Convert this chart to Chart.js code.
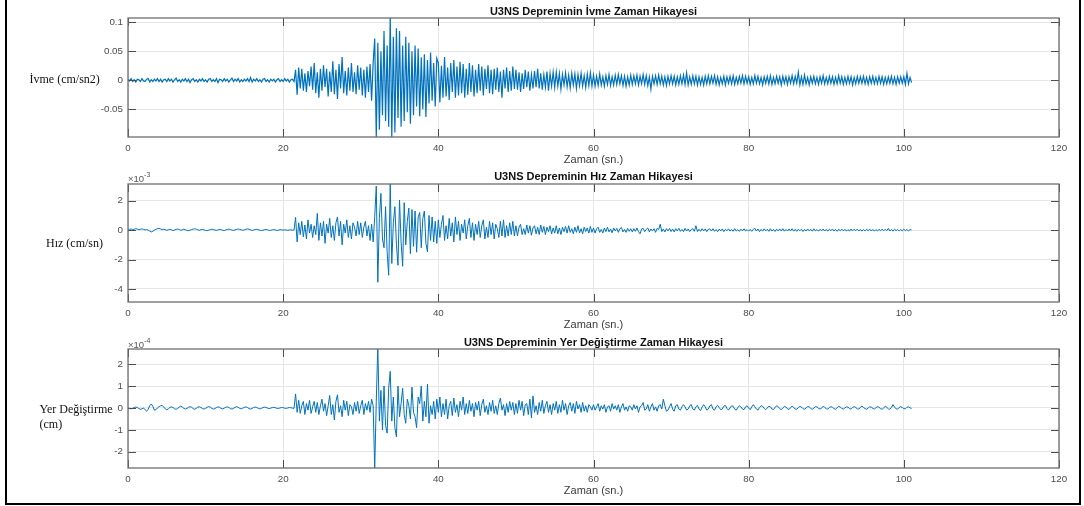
<!DOCTYPE html>
<html>
<head>
<meta charset="utf-8">
<script src="https://cdn.jsdelivr.net/npm/chart.js@4/dist/chart.umd.min.js"></script>
<style>
  html, body { margin: 0; padding: 0; background: #fff; }
  #wrap { position: relative; width: 1084px; height: 506px; overflow: hidden; background: #fff; }
  #wrap canvas { position: absolute; left: 0; top: 0; }
  #frame { position: absolute; left: 5px; top: -3px; width: 1076px; height: 508px;
           border: 2px solid #000; box-sizing: border-box; pointer-events: none; }
</style>
</head>
<body>
<div id="wrap">
  <canvas id="c1" width="1084" height="506"></canvas>
  <canvas id="c2" width="1084" height="506"></canvas>
  <canvas id="c3" width="1084" height="506"></canvas>
  <div id="frame"></div>
</div>
<script>
// Sampling step of the records (s); sample i sits at t = i * DT
const DT = 0.2;

// Time axis ticks (s)
const zamanTicks = [0, 20, 40, 60, 80, 100, 120];

// Acceleration record (cm/sn2), one row per 5 s
const ivme = [
  .002,-.001,.003,-.002,.001,-.003,.002,.001,-.002,.003,-.001,-.002,.002,.003,-.003,.001,-.002,.002,-.001,.003,-.002,.002,-.003,.001,.002,
  -.002,.003,-.001,.002,-.003,.001,.004,-.002,.001,-.003,.002,-.001,.003,-.002,.002,-.004,.001,.003,-.002,.001,-.003,.002,-.001,.003,-.002,
  .001,-.003,.002,.003,-.002,.001,-.002,.003,-.004,.002,.001,-.002,.003,-.001,.002,-.003,.001,.004,-.002,.002,-.001,.003,-.003,.001,-.002,
  .002,-.001,.003,-.002,.005,-.003,.002,-.001,.003,-.002,.001,-.003,.002,.003,-.002,.001,-.003,.002,-.001,.002,-.003,.001,.003,-.002,.001,
  -.002,.003,-.001,.002,-.003,.001,.002,-.002,.018,-.025,.022,-.014,.02,-.018,.012,-.02,.016,-.01,.024,-.016,.03,-.022,.014,-.03,.02,
  -.018,.026,-.012,.02,-.028,.015,-.02,.033,-.024,.018,-.032,.028,-.014,.04,-.022,.016,-.026,.022,-.018,.03,-.02,.014,-.024,.026,-.016,
  .022,-.026,.018,-.03,.024,-.02,.028,-.035,.03,.072,-.1,.065,-.085,.05,-.06,.085,-.07,.06,-.08,.112,-.1,.075,-.09,.09,-.065,
  .085,-.08,.06,-.07,.075,-.055,.065,-.075,.05,-.06,.06,-.045,.055,-.062,.04,-.05,.045,-.063,.035,-.04,.048,-.035,.03,-.045,.038,
  .03,-.038,.025,-.03,.04,-.028,.022,-.034,.03,-.02,.035,-.03,.024,-.026,.032,-.022,.028,-.03,.02,-.025,.03,-.02,.026,-.028,.018,
  -.022,.028,-.018,.024,-.026,.02,-.015,.026,-.022,.018,-.024,.02,-.016,.022,-.02,.015,-.03,.018,-.014,.022,-.02,.016,-.018,.024,-.015,
  .018,-.016,.014,-.02,.012,-.015,.018,-.012,.015,-.018,.01,-.014,.016,-.012,.02,-.014,.012,-.016,.01,-.012,.015,-.018,.012,-.01,.014,
  -.012,.014,-.01,.012,-.015,.01,-.008,.013,-.011,.009,-.013,.012,-.008,.011,-.014,.01,-.009,.012,-.01,.008,-.012,.011,-.009,.013,-.01,
  .009,-.01,.007,-.009,.011,-.008,.006,-.01,.008,-.007,.01,-.009,.006,-.008,.009,-.007,.01,-.006,.008,-.009,.007,-.01,.006,-.008,.009,
  -.007,.008,-.006,.009,-.008,.007,-.006,.01,-.007,.008,-.009,.006,-.015,.007,-.006,.008,-.007,.009,-.006,.007,-.008,.006,-.009,.007,-.006,
  .008,-.006,.007,-.008,.006,-.007,.008,-.006,.009,-.007,.013,-.008,.006,-.007,.008,-.006,.007,-.008,.006,-.007,.005,-.008,.007,-.006,.008,
  -.006,.007,-.005,.008,-.007,.006,-.008,.005,-.006,.007,-.008,.006,-.005,.007,-.006,.008,-.007,.005,-.006,.007,-.005,.008,-.006,.007,-.005,
  .006,-.007,.005,-.006,.008,-.005,.007,-.006,.005,-.008,.006,-.005,.007,-.006,.008,-.007,.005,-.006,.007,-.005,.006,-.008,.007,-.005,.006,
  -.007,.006,-.005,.008,-.006,.007,-.005,.014,-.008,.006,-.007,.009,-.006,.005,-.008,.006,-.005,.007,-.006,.005,-.007,.006,-.005,.008,-.006,
  .005,-.006,.007,-.005,.006,-.007,.005,-.006,.008,-.005,.006,-.007,.005,-.006,.007,-.005,.006,-.008,.005,-.006,.007,-.005,.006,-.005,.007,
  -.006,.005,-.007,.006,-.005,.007,-.006,.005,-.006,.007,-.005,.006,-.007,.005,-.006,.006,-.005,.007,-.006,.005,-.007,.006,-.005,.006,-.005,
  .006,-.007,.012,-.006,.005,-.004
];

// Velocity record (x10^-3 cm/sn), one row per 5 s
const hiz = [
  0,.05,.08,.04,.06,.1,.07,.03,.06,.09,.05,.02,.04,0,-.06,-.12,-.08,0,.06,.1,.12,.08,.04,.06,.03,
  -.02,.03,.06,.02,-.03,.01,.05,.08,.04,-.01,.02,.06,.03,-.02,-.04,0,.04,.07,.1,.06,.02,-.01,.03,.05,.02,
  -.02,-.04,0,.03,.06,.04,.01,-.02,.02,.05,.03,-.01,-.03,.01,.04,.07,.04,0,-.02,.02,.05,.08,.05,.02,-.01,
  .02,.05,.09,.06,.02,-.02,.01,.04,.06,.03,-.01,-.03,0,.03,.05,.02,-.02,-.01,.02,.04,.01,-.02,0,.03,.02,
  0,.02,.01,-.01,.01,.02,0,.01,.87,-.8,.5,-.3,.6,-.45,.35,-.6,.7,-.2,.4,-.5,.3,-.3,1.14,-.7,.5,
  -.4,.6,-.9,.4,-.2,.8,-.5,.3,-.7,.5,.9,-.4,.6,-1,.4,-.2,.7,-.5,.3,-.6,.5,.2,-.4,.6,-.3,
  .5,-.5,.2,.6,-.4,.3,-.7,.4,-.8,.9,3,-3.55,.8,2.5,-.6,-1.2,1.6,-1.5,-3.07,3.2,-2.27,.5,1.6,-1,-2.39,
  2.05,-.8,-2.46,1.87,-1,.6,1.5,-1.6,1.4,-1.1,1.3,-1.5,.9,1.2,-1.2,.8,1.3,-.9,-1.48,1,-.7,.9,-.8,.6,-.9,
  .7,-.5,.4,1,-.7,.3,-.6,.8,-.4,.5,-.8,.9,-.3,.6,-.7,.4,-.2,.7,-.6,.3,.8,-.5,.5,-.7,.4,
  -.3,.6,-.5,.3,.7,-.6,.2,-.5,.6,-.3,.5,-.6,.4,.1,-.5,.6,-.4,.7,-.5,.3,-.4,.5,-.3,.6,-.4,
  .3,-.4,.2,.4,-.3,.1,-.3,.35,-.2,.3,-.35,.15,.3,-.25,.2,-.3,.35,-.15,.25,-.3,.2,-.1,.3,-.25,.15,
  -.2,.3,-.25,.15,-.3,.2,-.1,.25,-.2,.3,-.15,.1,-.25,.2,-.15,.3,-.2,.1,-.25,.2,-.1,.15,-.2,.25,-.15,
  .15,-.2,.1,.2,-.15,.05,-.2,.15,-.1,.2,-.12,.08,-.18,.15,-.05,.12,-.15,.1,.18,-.12,.05,-.15,.12,-.08,.1,
  -.12,.1,-.08,.15,-.1,-.25,.08,.12,-.1,.05,.15,-.12,.08,-.05,.1,-.15,.12,.05,.4,-.1,.08,-.12,.1,-.05,.12,
  -.1,.08,-.12,.1,-.05,.12,-.08,.05,-.1,.12,-.06,.08,-.1,.05,.1,-.08,.3,-.1,.06,-.08,.1,-.05,.08,-.1,.06,
  .08,-.06,.1,-.08,.04,-.1,.07,-.05,.08,-.1,.06,-.04,.09,-.07,.05,-.08,.1,-.06,.04,-.08,.07,-.05,.09,-.06,.04,
  -.07,.05,-.08,.06,.12,-.06,.08,-.1,.05,-.07,.09,-.05,.06,-.08,.1,-.06,.05,-.09,.07,-.05,.08,-.06,.1,-.07,.05,
  -.06,.08,-.05,.1,-.07,.05,-.08,.06,-.04,.07,-.09,.05,-.06,.08,-.05,.06,-.07,.09,-.05,.04,-.07,.06,-.05,.08,-.06,
  .05,-.07,.06,-.04,.08,-.06,.05,-.08,.06,-.04,.07,-.05,.06,-.07,.04,-.06,.08,-.05,.06,-.04,.07,-.06,.05,-.07,.04,
  -.05,.06,-.04,.07,-.06,.05,-.07,.04,-.05,.06,-.04,.07,-.05,.06,-.04,.12,-.06,.05,-.07,.06,-.04,.05,-.06,.04,-.05,
  .06,-.04,.05,-.06,.04,.02
];

// Displacement record (x10^-4 cm), one row per 5 s
const yerDegistirme = [
  0,-.02,-.04,-.02,.02,.04,.02,-.03,-.06,-.04,0,-.08,-.15,-.06,.1,.18,.08,-.1,-.08,0,.06,.1,.12,.04,-.04,
  -.08,-.04,.02,.05,.02,-.04,-.06,-.02,.04,.08,.04,-.02,-.05,-.02,.03,.06,.03,-.03,-.06,-.02,.04,.05,.02,-.03,-.05,
  -.02,.03,.06,.04,-.02,-.05,-.03,.02,.05,.03,-.02,-.04,-.01,.03,.05,.02,-.03,-.05,-.02,.03,.06,.03,-.02,-.04,-.01,
  .03,.05,.02,-.03,-.05,-.02,.02,.04,.02,-.02,-.04,-.02,.02,.04,.02,-.01,-.03,-.01,.02,.03,.01,-.02,-.02,0,.02,
  .01,-.01,-.02,0,.02,.01,-.01,-.02,.64,-.2,.35,-.25,.1,.3,-.3,.2,-.1,.35,-.25,.05,.3,-.2,.25,-.3,.1,
  .4,-.15,.2,-.35,.1,.57,-.3,.15,-.55,.3,.6,-.2,.1,-.4,.35,-.1,.3,-.35,.15,.05,-.3,.25,-.15,.3,-.25,
  .1,.35,-.3,.2,-.1,.3,-.2,.4,.1,-2.8,.3,2.8,-.6,.8,-1,1,-.8,-1.15,.9,1.67,-.6,.5,-.9,-1.32,1,
  -.4,.2,.9,-.3,-.7,.4,.1,-.5,.95,-.2,-.4,-.9,.5,.2,1,-.6,.3,-.4,1.09,-.7,.1,-.3,.3,-.5,.4,
  -.2,.5,-.4,.2,-.3,.4,-.5,.1,.3,-.35,.45,-.2,.15,-.4,.3,-.1,.5,-.3,.2,-.25,.35,-.15,.2,-.4,.25,
  -.1,.3,-.35,.15,.4,-.2,.1,-.3,.25,-.15,.35,-.25,.1,-.3,.2,.45,-.1,.15,-.35,.2,-.2,.3,-.1,.25,-.3,
  .2,-.25,.35,-.1,.3,-.35,.15,.2,-.3,.4,-.45,.55,-.2,.1,-.3,.25,-.15,.35,-.25,.1,.3,-.2,.15,-.3,.2,
  -.1,.3,-.25,.15,-.2,.35,-.1,.2,-.3,.1,.25,-.15,.2,-.25,.3,-.05,.15,-.2,.25,-.15,.1,-.2,.15,.05,-.1,
  .15,-.1,.05,.2,-.15,.1,-.05,.15,-.2,.05,.1,-.15,.2,-.05,.1,-.1,.15,-.2,.05,.2,-.1,.05,-.15,.1,.05,
  -.1,.15,-.05,.1,-.2,.05,.1,.25,-.1,-.05,.15,-.15,.05,.2,-.1,.05,-.15,.1,.15,-.05,.4,.1,-.15,-.1,.05,
  .2,-.05,-.15,.1,.15,-.05,-.1,.05,.15,.05,-.1,-.05,.1,.15,-.05,-.1,.05,.12,-.05,-.12,.05,.15,.05,-.1,-.05,
  .1,.15,-.05,-.1,.05,.12,.02,-.08,-.05,.08,.12,-.02,-.1,0,.1,.08,-.05,-.1,.02,.1,.05,-.05,-.08,.05,.1,
  0,-.08,.05,.15,.05,-.05,-.1,.02,.1,.08,-.02,-.08,0,.08,.05,-.05,-.07,.02,.1,.06,-.03,-.08,0,.07,.04,
  -.04,-.07,.02,.08,.03,-.05,-.06,.02,.07,.04,-.03,-.06,0,.06,.05,-.02,-.06,-.01,.06,.05,-.02,-.05,0,.07,.03,
  -.04,-.05,.02,.06,.03,-.03,-.06,.01,.07,.04,-.02,-.05,0,.05,.04,-.03,-.05,.02,.06,.02,-.04,-.05,.03,.08,.02,
  -.03,-.06,0,.05,.04,-.02,-.05,.01,.06,.03,-.03,-.06,0,.07,.03,-.04,-.06,.02,.15,.04,-.04,-.05,.02,.06,.02,
  -.03,-.04,.03,.05,0,-.02
];

// Value-axis ticks of each panel
const ivmeTicks = [-0.05, 0, 0.05, 0.1];
const hizTicks = [-4, -2, 0, 2];
const yerTicks = [-2, -1, 0, 1, 2];

// Panel layout and texts
const W = 1084, H = 506;
const BOX_LEFT = 128, BOX_RIGHT = 1059;
const X_AXIS_H = 18;
const panels = [
  { canvas: 'c1', values: ivme, yTicks: ivmeTicks, yMin: -0.0977, yMax: 0.1075, lineWidth: 1.2,
    top: 18, bottom: 137, titleY: 12,
    title: 'U3NS Depreminin İvme Zaman Hikayesi', xLabelY: 160,
    yLabel: [{ text: 'İvme (cm/sn2)', x: 29.5, y: 80 }], exponent: null },
  { canvas: 'c2', values: hiz, yTicks: hizTicks, yMin: -4.89, yMax: 3.14, lineWidth: 1,
    top: 184, bottom: 302, titleY: 177,
    title: 'U3NS Depreminin Hız Zaman Hikayesi', xLabelY: 324.5,
    yLabel: [{ text: 'Hız (cm/sn)', x: 46, y: 244 }], exponent: { pow: '-3', y: 179 } },
  { canvas: 'c3', values: yerDegistirme, yTicks: yerTicks, yMin: -2.74, yMax: 2.69, lineWidth: 1,
    top: 349, bottom: 468, titleY: 343,
    title: 'U3NS Depreminin Yer Değiştirme Zaman Hikayesi', xLabelY: 491,
    yLabel: [{ text: 'Yer Değiştirme', x: 39.5, y: 410 }, { text: '(cm)', x: 39.5, y: 425 }],
    exponent: { pow: '-4', y: 345 } }
];

const SANS = '"Liberation Sans", Arial, Helvetica, sans-serif';
const SERIF = '"Liberation Serif", "Times New Roman", serif';
const LINE = '#0072BD';
const GRID = '#e6e6e6';
const TICK_LEN = 8;

// Box, inward tick marks and all panel texts
const axesDecor = {
  id: 'axesDecor',
  afterDatasetsDraw(chart, args, o) {
    const { ctx, chartArea: a, scales: { x, y } } = chart;
    ctx.save();
    ctx.strokeStyle = '#4d4d4d';
    ctx.lineWidth = 1;
    ctx.beginPath();
    zamanTicks.forEach(v => {
      const px = Math.round(x.getPixelForValue(v)) + 0.5;
      ctx.moveTo(px, a.bottom); ctx.lineTo(px, a.bottom - TICK_LEN);
      ctx.moveTo(px, a.top); ctx.lineTo(px, a.top + TICK_LEN);
    });
    o.yTicks.forEach(v => {
      const py = Math.round(y.getPixelForValue(v)) + 0.5;
      ctx.moveTo(a.left, py); ctx.lineTo(a.left + TICK_LEN, py);
      ctx.moveTo(a.right, py); ctx.lineTo(a.right - TICK_LEN, py);
    });
    ctx.stroke();
    ctx.strokeStyle = '#6e6e6e';
    ctx.lineWidth = 1.3;
    ctx.strokeRect(a.left, a.top, a.right - a.left, a.bottom - a.top);
    ctx.restore();
  },
  afterDraw(chart, args, o) {
    const { ctx, chartArea: a } = chart;
    const cx = (a.left + a.right) / 2;
    ctx.save();
    ctx.textBaseline = 'middle';
    ctx.textAlign = 'center';
    ctx.fillStyle = '#111';
    ctx.font = 'bold 11px ' + SANS;
    ctx.fillText(o.title, cx, o.titleY);
    ctx.fillStyle = '#3a3a3a';
    ctx.font = '11px ' + SANS;
    ctx.fillText('Zaman (sn.)', cx, o.xLabelY);
    ctx.textAlign = 'left';
    ctx.fillStyle = '#111';
    ctx.font = '12px ' + SERIF;
    o.yLabel.forEach(l => ctx.fillText(l.text, l.x, l.y));
    if (o.exponent) {
      ctx.fillStyle = '#555';
      ctx.font = '9.5px ' + SANS;
      const base = '×10';
      ctx.fillText(base, a.left, o.exponent.y);
      const w = ctx.measureText(base).width;
      ctx.font = '7px ' + SANS;
      ctx.fillText(o.exponent.pow, a.left + w, o.exponent.y - 4);
    }
    ctx.restore();
  }
};

const tickFont = { family: SANS, size: 9.8 };

panels.forEach(p => {
  const points = p.values.map((v, i) => ({ x: i * DT, y: v }));
  new Chart(document.getElementById(p.canvas), {
    type: 'line',
    data: { datasets: [{ data: points, borderColor: LINE, borderWidth: p.lineWidth,
                         pointRadius: 0, tension: 0, fill: false }] },
    options: {
      responsive: false,
      animation: false,
      events: [],
      parsing: false,
      layout: { padding: { top: p.top, bottom: H - p.bottom - X_AXIS_H, left: 0, right: W - BOX_RIGHT } },
      plugins: {
        legend: { display: false },
        tooltip: { enabled: false },
        axesDecor: { title: p.title, titleY: p.titleY, xLabelY: p.xLabelY,
                     yLabel: p.yLabel, exponent: p.exponent, yTicks: p.yTicks }
      },
      scales: {
        x: {
          type: 'linear', min: 0, max: 120,
          afterFit: s => { s.height = X_AXIS_H; },
          afterBuildTicks: s => { s.ticks = zamanTicks.map(v => ({ value: v })); },
          grid: { color: GRID, drawTicks: false },
          border: { display: false },
          ticks: { color: '#4d4d4d', font: tickFont, padding: 5.5, autoSkip: false,
                   maxRotation: 0, callback: v => String(v) }
        },
        y: {
          type: 'linear', min: p.yMin, max: p.yMax,
          afterFit: s => { s.width = BOX_LEFT; },
          afterBuildTicks: s => { s.ticks = p.yTicks.map(v => ({ value: v })); },
          grid: { color: GRID, drawTicks: false },
          border: { display: false },
          ticks: { color: '#4d4d4d', font: tickFont, padding: 5, autoSkip: false,
                   callback: v => String(v) }
        }
      }
    },
    plugins: [axesDecor]
  });
});
</script>
</body>
</html>
